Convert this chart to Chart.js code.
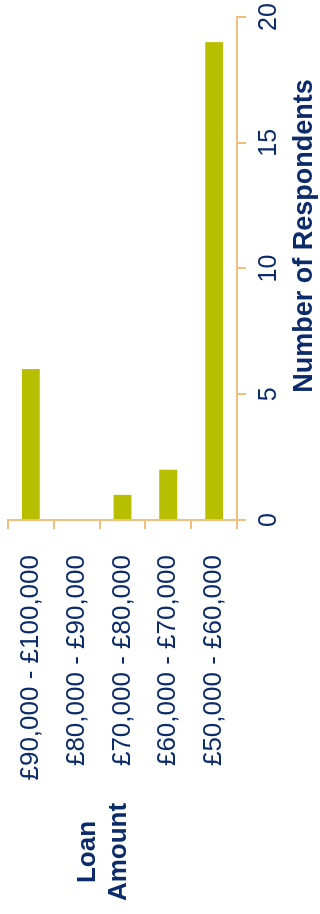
<!DOCTYPE html>
<html>
<head>
<meta charset="utf-8">
<script src="https://cdn.jsdelivr.net/npm/chart.js@4/dist/chart.umd.min.js"></script>
<style>
  html, body { margin: 0; padding: 0; overflow: hidden; background: #fff; }
  body { width: 320px; height: 914px; position: relative; }
  /* the chart is laid out landscape and turned a quarter to the left */
  #wrap {
    position: absolute; left: 0; top: 0;
    width: 914px; height: 320px;
    transform-origin: 0 0;
    transform: translateY(914px) rotate(-90deg);
  }
</style>
</head>
<body>
<div id="wrap"><canvas id="chart"></canvas></div>
<script>
const loanBands = ['£90,000 - £100,000', '£80,000 - £90,000', '£70,000 - £80,000', '£60,000 - £70,000', '£50,000 - £60,000'];
const respondents = [6, 0, 1, 2, 19];
const valueTicks = [0, 5, 10, 15, 20];

const textColor = '#0c2b6b';
const axisColor = '#f1c081';
const barColor = '#b8bf00';
const family = '"Liberation Sans", Arial, Helvetica, sans-serif';

// axis titles sit where the original put them, not centred on the axis
const axisTitles = {
  id: 'axisTitles',
  afterDraw(chart) {
    const ctx = chart.ctx;
    ctx.save();
    ctx.fillStyle = textColor;
    ctx.textAlign = 'center';
    ctx.textBaseline = 'middle';
    ctx.font = 'bold 27px ' + family;
    ctx.fillText('Number of Respondents', 678, 305);
    ctx.font = 'bold 26px ' + family;
    ctx.fillText('Loan', 62, 88);
    ctx.fillText('Amount', 62, 119);
    ctx.restore();
  }
};

// drop the extra room chart.js keeps for the end tick labels
function noEdgePadding(scale) {
  scale.paddingTop = 0;
  scale.paddingBottom = 0;
  scale.paddingLeft = 0;
  scale.paddingRight = 0;
}

document.addEventListener('DOMContentLoaded', function () {
  const ctx = document.getElementById('chart').getContext('2d');
  new Chart(ctx, {
    type: 'bar',
    data: {
      labels: loanBands,
      datasets: [{
        data: respondents,
        backgroundColor: barColor,
        borderWidth: 0,
        barPercentage: 0.39,
        categoryPercentage: 1
      }]
    },
    options: {
      indexAxis: 'y',
      responsive: true,
      maintainAspectRatio: false,
      animation: false,
      layout: { padding: { top: 8, right: 17, left: 0, bottom: 0 } },
      plugins: {
        legend: { display: false },
        tooltip: { enabled: false }
      },
      scales: {
        x: {
          position: 'bottom',
          min: 0,
          max: 20,
          afterBuildTicks(scale) {
            scale.ticks = valueTicks.map(v => ({ value: v }));
          },
          afterFit(scale) {
            scale.height = 83;
            noEdgePadding(scale);
          },
          grid: { drawOnChartArea: false, color: axisColor, lineWidth: 2, tickLength: 9 },
          border: { color: axisColor, width: 2 },
          ticks: {
            color: textColor,
            font: { family: family, size: 25 },
            padding: 8,
            maxRotation: 0,
            autoSkip: false
          }
        },
        y: {
          position: 'left',
          afterFit(scale) {
            scale.width = 394;
            noEdgePadding(scale);
          },
          grid: { drawOnChartArea: false, color: axisColor, lineWidth: 2, tickLength: 9 },
          border: { color: axisColor, width: 2 },
          ticks: {
            color: textColor,
            font: { family: family, size: 26 },
            padding: 26,
            autoSkip: false
          }
        }
      }
    },
    plugins: [axisTitles]
  });
});
</script>
</body>
</html>
